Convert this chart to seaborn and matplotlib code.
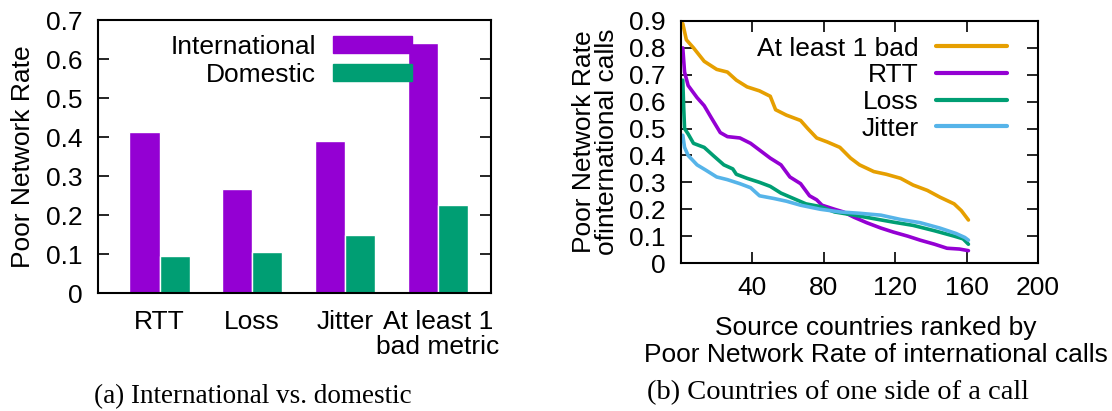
import numpy as np
import pandas as pd
import seaborn as sns
import matplotlib.pyplot as plt
from matplotlib.patches import Patch
from matplotlib.lines import Line2D

# (a) bar chart values
metrics = ["RTT", "Loss", "Jitter", "At least 1\nbad metric"]
international = [0.413, 0.267, 0.391, 0.641]
domestic = [0.095, 0.106, 0.149, 0.226]

# (b) ranked countries, sampled along the curves
bad_rank = [1, 3, 7, 13, 20, 26, 31, 37, 44, 50, 53, 59, 67, 71, 76, 82, 89, 95,
            100, 108, 115, 123, 130, 138, 145, 153, 157, 161]
bad_rate = [0.89, 0.83, 0.80, 0.75, 0.72, 0.71, 0.68, 0.655, 0.64, 0.62, 0.57, 0.55,
            0.53, 0.50, 0.465, 0.45, 0.43, 0.39, 0.365, 0.34, 0.33, 0.315, 0.29,
            0.27, 0.245, 0.22, 0.195, 0.16]
rtt_rank = [1, 2, 4, 9, 13, 17, 22, 26, 33, 39, 44, 50, 56, 61, 67, 72, 76, 79, 86,
            91, 97, 104, 112, 119, 127, 134, 142, 149, 156, 161]
rtt_rate = [0.80, 0.71, 0.66, 0.615, 0.585, 0.54, 0.485, 0.47, 0.465, 0.445, 0.42,
            0.39, 0.365, 0.32, 0.295, 0.25, 0.235, 0.215, 0.20, 0.19, 0.17, 0.15,
            0.13, 0.115, 0.10, 0.085, 0.07, 0.055, 0.052, 0.046]
loss_rank = [1, 1.5, 2, 4, 7, 13, 18, 24, 29, 31, 37, 44, 50, 56, 63, 70, 78, 86,
             97, 108, 119, 130, 142, 153, 158, 161]
loss_rate = [0.68, 0.58, 0.50, 0.48, 0.445, 0.43, 0.40, 0.365, 0.35, 0.33, 0.315,
             0.30, 0.285, 0.26, 0.24, 0.22, 0.21, 0.19, 0.178, 0.165, 0.152, 0.14,
             0.12, 0.10, 0.09, 0.07]
jitter_rank = [1, 2, 4, 9, 14, 20, 26, 33, 39, 44, 52, 59, 67, 78, 89, 100, 112,
               123, 134, 145, 154, 159, 161]
jitter_rate = [0.475, 0.43, 0.40, 0.365, 0.345, 0.32, 0.31, 0.295, 0.28, 0.25, 0.24,
               0.23, 0.215, 0.20, 0.19, 0.185, 0.178, 0.162, 0.15, 0.13, 0.11, 0.095,
               0.085]

purple = "#9400D3"
green = "#009E73"
orange = "#E69F00"
blue = "#56B4E9"
fs = 19

sns.set_theme(style="ticks")
plt.rcParams["font.family"] = ["Liberation Sans", "DejaVu Sans"]
plt.rcParams["font.size"] = fs
for k in ("text.color", "axes.labelcolor", "xtick.color", "ytick.color"):
    plt.rcParams[k] = "black"

fig = plt.figure(figsize=(11.12, 4.11), dpi=100)
ax1 = fig.add_axes([0.088, 0.287, 0.3535, 0.664])
ax2 = fig.add_axes([0.6124, 0.36, 0.3211, 0.589])

# ---- (a) ----
bars = pd.DataFrame({
    "metric": metrics * 2,
    "rate": international + domestic,
    "kind": ["International"] * 4 + ["Domestic"] * 4,
})
sns.barplot(data=bars, x="metric", y="rate", hue="kind", ax=ax1,
            palette=[purple, green], width=0.65, gap=0, saturation=1, legend=False)
ax1.set_xlim(-0.665, 3.575)
ax1.set_ylim(0, 0.7)
ax1.set_yticks(np.arange(0, 0.71, 0.1))
ax1.set_yticklabels(["0"] + [f"{v:.1f}" for v in np.arange(0.1, 0.71, 0.1)])
ax1.set_xlabel("")
ax1.set_ylabel("Poor Network Rate", fontsize=fs, labelpad=8)
ax1.tick_params(axis="x", length=0, pad=12, labelsize=fs)
for t in ax1.get_xticklabels():
    t.set_linespacing(1.05)
ax1.tick_params(axis="y", direction="in", length=8, width=1.2, right=True,
                labelsize=fs, pad=11)
ax1.legend(handles=[Patch(color=purple, label="International"),
                    Patch(color=green, label="Domestic")],
           loc="upper right", bbox_to_anchor=(0.80, 0.945), frameon=False,
           markerfirst=False, handlelength=3.0, handleheight=0.6, handletextpad=0.65,
           borderpad=0, borderaxespad=0, labelspacing=0.14, fontsize=fs)

# ---- (b) ----
series = [("At least 1 bad", bad_rank, bad_rate, orange),
          ("RTT", rtt_rank, rtt_rate, purple),
          ("Loss", loss_rank, loss_rate, green),
          ("Jitter", jitter_rank, jitter_rate, blue)]
for name, xs, ys, col in series:
    sns.lineplot(x=xs, y=ys, ax=ax2, color=col, linewidth=2.6, estimator=None,
                 sort=False)
ax2.set_xlim(0, 200)
ax2.set_ylim(0, 0.9)
ax2.set_xticks([40, 80, 120, 160, 200])
ax2.set_yticks(np.arange(0, 0.91, 0.1))
ax2.set_yticklabels(["0"] + [f"{v:.1f}" for v in np.arange(0.1, 0.91, 0.1)])
ax2.set_xlabel("Source countries ranked by\nPoor Network Rate of international calls",
               fontsize=fs, labelpad=9, linespacing=1.12)
ax2.xaxis.set_label_coords(0.545, -0.22, transform=ax2.transAxes)
ax2.xaxis.label.set_va("top")
ax2.set_ylabel("Poor Network Rate\nofinternational calls", fontsize=fs,
               labelpad=7, linespacing=0.95)
ax2.tick_params(direction="in", length=8, width=1.2, top=True, right=True,
                labelsize=fs)
ax2.tick_params(axis="x", pad=9)
ax2.tick_params(axis="y", pad=11)
ax2.legend(handles=[Line2D([], [], color=c, lw=3, label=n) for n, _, _, c in series],
           loc="upper right", bbox_to_anchor=(0.913, 0.935), frameon=False,
           markerfirst=False, handlelength=2.7, handletextpad=0.65,
           borderpad=0, borderaxespad=0, labelspacing=0.1, fontsize=fs)

for ax in (ax1, ax2):
    for s in ax.spines.values():
        s.set_linewidth(1.5)
        s.set_color("black")

fig.text(0.2275, 0.034, "(a) International vs. domestic", ha="center", va="center",
         family="Liberation Serif", fontsize=19.5)
fig.text(0.7536, 0.044, "(b) Countries of one side of a call", ha="center",
         va="center", family="Liberation Serif", fontsize=20.5)

fig.savefig("out.png", dpi=100)
